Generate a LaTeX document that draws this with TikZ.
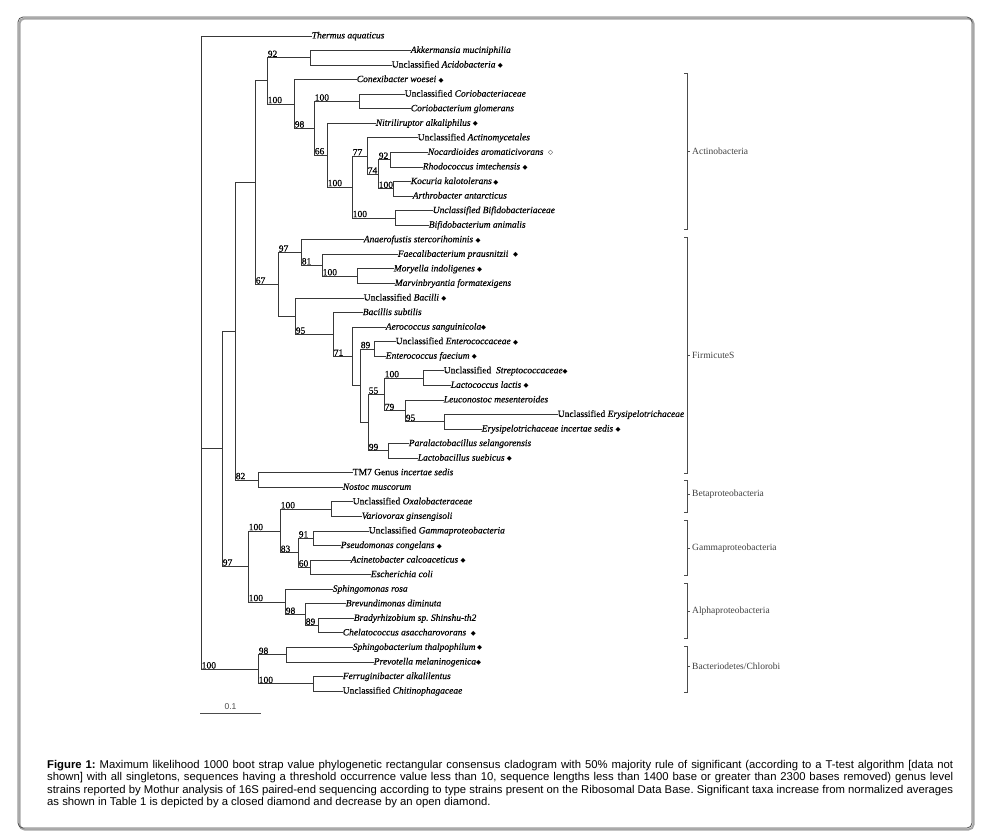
\documentclass[tikz,border=0pt]{standalone}
\usepackage{fontspec}
\setmainfont{Liberation Serif}[FakeBold=0.35]
\newfontfamily\cladefont{Liberation Serif}
\newfontfamily\capfont{Liberation Sans}
\newfontfamily\diafont{DejaVu Sans}
\newcommand\fdia{{\diafont\fontsize{6.5}{7}\selectfont ◆}}
\newcommand\odia{{\diafont\fontsize{6.5}{7}\selectfont ◇}}
\frenchspacing
\tikzset{
  branch/.style={draw=black!78, line width=1pt, line cap=rect},
  leaf/.style={anchor=west, inner sep=0.6pt, text height=6.8pt, text depth=2pt,
    font=\fontsize{9.5}{10}\selectfont},
  boot/.style={anchor=south west, inner sep=0.6pt, font=\fontsize{9.5}{10}\selectfont},
  bracket/.style={draw=black!70, line width=0.6pt},
  clade/.style={anchor=west, inner sep=0pt, text=black!75, font=\cladefont\fontsize{9.5}{10}\selectfont},
}
\begin{document}
\begin{tikzpicture}[x=1pt, y=-1pt]
\useasboundingbox (0,0) rectangle (992,836);
\draw[black!35, line width=2pt, rounded corners=5pt] (19.5,18.5) rectangle (973.5,829.5);
\draw[black!70, line width=0.8pt, rounded corners=5pt] (18,17) rectangle (972,828);

\foreach \nm/\tx/\lbl [count=\i from 0] in {
  thermus/311/{\textit{Thermus aquaticus}},
  akk/410/{\textit{Akkermansia muciniphilia}},
  acido/391/{Unclassified \textit{Acidobacteria} \fdia},
  conex/356/{\textit{Conexibacter woesei} \fdia},
  corioa/404/{Unclassified \textit{Coriobacteriaceae}},
  coriob/410/{\textit{Coriobacterium glomerans}},
  nitril/375/{\textit{Nitriliruptor alkaliphilus} \fdia},
  actino/417/{Unclassified \textit{Actinomycetales}},
  nocard/427/{\textit{Nocardioides aromaticivorans} \ \odia},
  rhodo/422/{\textit{Rhodococcus imtechensis} \fdia},
  kocuria/410/{\textit{Kocuria kalotolerans}\,\fdia},
  arthro/412/{\textit{Arthrobacter antarcticus}},
  bifa/432/{\textit{Unclassified Bifidobacteriaceae}},
  bifb/428/{\textit{Bifidobacterium animalis}},
  anaero/363/{\textit{Anaerofustis stercorihominis} \fdia},
  faecali/397/{\textit{Faecalibacterium prausnitzii} \ \fdia},
  moryella/393/{\textit{Moryella indoligenes} \fdia},
  marvin/394/{\textit{Marvinbryantia formatexigens}},
  bacilli/363/{Unclassified \textit{Bacilli} \fdia},
  bsub/362/{\textit{Bacillis subtilis}},
  aeroc/385/{\textit{Aerococcus sanguinicola}\fdia},
  entA/395/{Unclassified \textit{Enterococcaceae} \fdia},
  entB/385/{\textit{Enterococcus faecium} \fdia},
  strep/443/{Unclassified \ \textit{Streptococcaceae}\fdia},
  lactoc/450/{\textit{Lactococcus lactis} \fdia},
  leuco/443/{\textit{Leuconostoc mesenteroides}},
  erysA/557/{Unclassified \textit{Erysipelotrichaceae}},
  erysB/481/{\textit{Erysipelotrichaceae incertae sedis} \fdia},
  paral/408/{\textit{Paralactobacillus selangorensis}},
  lactob/417/{\textit{Lactobacillus suebicus} \fdia},
  tm7/352/{TM7 Genus \textit{incertae sedis}},
  nostoc/342/{\textit{Nostoc muscorum}},
  oxalo/352/{Unclassified \textit{Oxalobacteraceae}},
  vario/361/{\textit{Variovorax ginsengisoli}},
  gamma/368/{Unclassified \textit{Gammaproteobacteria}},
  pseudo/340/{\textit{Pseudomonas congelans} \fdia},
  acineto/350/{\textit{Acinetobacter calcoaceticus} \fdia},
  ecoli/370/{\textit{Escherichia coli}},
  sphingo/332/{\textit{Sphingomonas rosa}},
  brevund/345/{\textit{Brevundimonas diminuta}},
  bradyr/353/{\textit{Bradyrhizobium sp. Shinshu-th2}},
  chelat/342/{\textit{Chelatococcus asaccharovorans} \ \fdia},
  sphingob/352/{\textit{Sphingobacterium thalpophilum}\,\fdia},
  prevot/373/{\textit{Prevotella melaninogenica}\fdia},
  ferrug/342/{\textit{Ferruginibacter alkalilentus}},
  chitino/342/{Unclassified \textit{Chitinophagaceae}}}
  \node[leaf] (\nm) at (\tx,{36+\i*14.56}) {\lbl};

\foreach \nm/\x/\y in {
  root/201/448.96, nA/222/448.96, nB/235/331.39, nC/255/182.7, nD/267/80.93,
  nAk/310/57.84, nE/294/104.02, nF/314/128.37, nG/359/101.52, nH/327/155.21,
  nI/352/187.06, nJ/367/156.12, nK/378/174.32, nNR/390/159.76, nKA/393/188.88,
  nL/395/218.0, nN/278/284.46, n97/301/252.58, n81/322/265.32, nMM/357/276.24,
  nO/295/316.34, nP/333/334.6, nQ/352/356.55, nR/360/385.9, nT/374/349.04,
  nS/368/422.75, nU/384/394.54, nW/423/378.16, nX/405/410.92, nY/444/421.84,
  nV/388/450.96, nZ/258/480.08, nPr/248/566.53, nBg/280/531.04, nBe/331/509.2,
  nGm/298/552.88, n91/313/538.32, n60/310/567.44, nAl/285/602.02, n98a/305/614.76,
  n89a/318/625.68, nBc/258/669.36, nSP/286/654.8, nFC/313/683.92}
  \coordinate (\nm) at (\x,\y);

\foreach \p/\c in {
  root/thermus, root/nA, root/nBc, nA/nB, nA/nPr, nB/nC, nB/nZ, nC/nD, nC/nN,
  nD/nAk, nD/nE, nAk/akk, nAk/acido, nE/conex, nE/nF, nF/nG, nF/nH,
  nG/corioa, nG/coriob, nH/nitril, nH/nI, nI/nJ, nI/nL, nJ/actino, nJ/nK,
  nK/nNR, nK/nKA, nNR/nocard, nNR/rhodo, nKA/kocuria, nKA/arthro,
  nL/bifa, nL/bifb, nN/n97, nN/nO, n97/anaero, n97/n81, n81/faecali, n81/nMM,
  nMM/moryella, nMM/marvin, nO/bacilli, nO/nP, nP/bsub, nP/nQ, nQ/aeroc, nQ/nR,
  nR/nT, nR/nS, nT/entA, nT/entB, nS/nU, nS/nV, nU/nW, nU/nX, nW/strep, nW/lactoc,
  nX/leuco, nX/nY, nY/erysA, nY/erysB, nV/paral, nV/lactob, nZ/tm7, nZ/nostoc,
  nPr/nBg, nPr/nAl, nBg/nBe, nBg/nGm, nBe/oxalo, nBe/vario, nGm/n91, nGm/n60,
  n91/gamma, n91/pseudo, n60/acineto, n60/ecoli, nAl/sphingo, nAl/n98a,
  n98a/brevund, n98a/n89a, n89a/bradyr, n89a/chelat, nBc/nSP, nBc/nFC,
  nSP/sphingob, nSP/prevot, nFC/ferrug, nFC/chitino}
  \draw[branch] (\p) |- (\c);

\foreach \p/\c/\v [count=\k] in {
  nD/nAk/92, nD/nE/100, nE/nF/98, nF/nG/100, nF/nH/66, nH/nI/100, nI/nJ/77,
  nJ/nK/74, nK/nNR/92, nK/nKA/100, nI/nL/100, nC/nN/67, nN/n97/97, n97/n81/81,
  n81/nMM/100, nO/nP/95, nP/nQ/71, nR/nT/89, nS/nU/55, nU/nW/100, nU/nX/79,
  nX/nY/95, nS/nV/99, nB/nZ/82, nA/nPr/97, nPr/nBg/100, nBg/nBe/100, nBg/nGm/83,
  nGm/n91/91, nGm/n60/60, nPr/nAl/100, nAl/n98a/98, n98a/n89a/89, root/nBc/100,
  nBc/nSP/98, nBc/nFC/100}
  \node[boot] (bs\k) at (\p |- \c) {\v};

\foreach \t/\b/\m/\nm [count=\k] in {
  73/229/151/Actinobacteria, 237/473/355/FirmicuteS, 480/512/494/Betaproteobacteria,
  520/575/548/Gammaproteobacteria, 583/638/611/Alphaproteobacteria,
  646/692/666/{Bacteriodetes/Chlorobi}} {
  \draw[bracket] (684,\t) -- (687,\t) -- (687,\b) -- (684,\b);
  \draw[bracket] (687,\m) -- (690,\m);
  \node[clade] (clade\k) at (692,\m) {\nm};
}

\coordinate (sb0) at (200,713);
\coordinate (sb1) at (261,713);
\draw[black!70, line width=0.8pt] (sb0) -- (sb1);
\node[anchor=south, inner sep=1pt, text=black!70, font=\capfont\fontsize{8.5}{9}\selectfont] (sbl) at (230.5,711) {0.1};

\node[anchor=north west, text width=906pt, align=justify, inner sep=0pt,
  font=\capfont\fontsize{11.3}{12.4}\selectfont] (caption) at (47,760)
  {\textbf{Figure 1:} Maximum likelihood 1000 boot strap value phylogenetic rectangular consensus cladogram with 50\% majority rule of significant (according to a T-test algorithm [data not\linebreak shown] with all singletons, sequences having a threshold occurrence value less than 10, sequence lengths less than 1400 base or greater than 2300 bases removed) genus level\linebreak strains reported by Mothur analysis of 16S paired-end sequencing according to type strains present on the Ribosomal Data Base. Significant taxa increase from normalized averages\linebreak as shown in Table 1 is depicted by a closed diamond and decrease by an open diamond.};
\end{tikzpicture}
\end{document}
